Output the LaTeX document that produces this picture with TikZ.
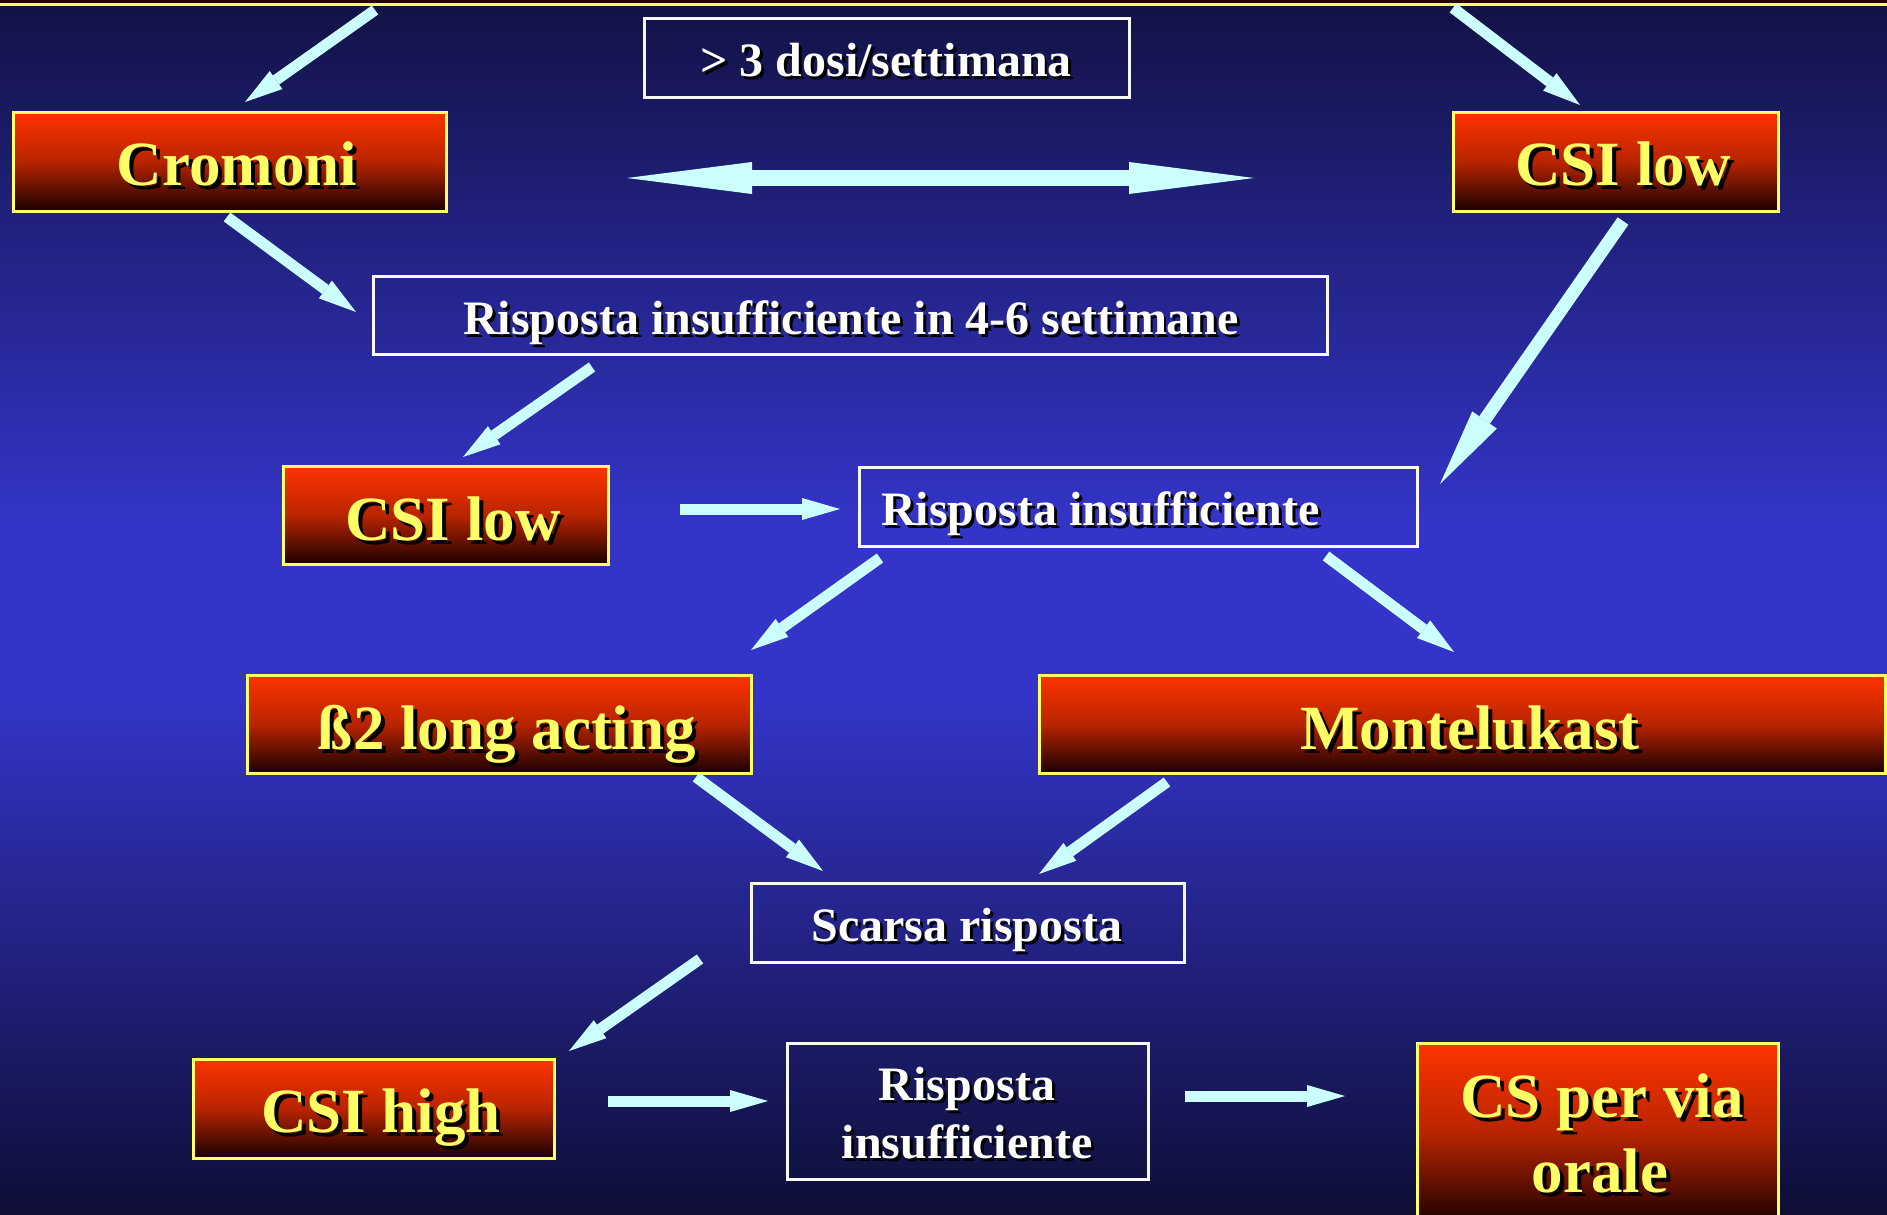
\documentclass[tikz,border=0pt]{standalone}
\usepackage{fontspec}
\setmainfont{Liberation Serif}
\usetikzlibrary{arrows.meta}
\definecolor{arrowc}{HTML}{CCFFFF}
\definecolor{ylw}{HTML}{FFFF66}
\definecolor{bgtop}{HTML}{121245}
\definecolor{bgmid}{HTML}{3434C8}
\definecolor{bgbot}{HTML}{0E0E36}
\definecolor{redtop}{HTML}{FF3300}
\definecolor{redmid}{HTML}{B82400}
\definecolor{redbot}{HTML}{1A0000}
\definecolor{topstrip}{HTML}{2A0400}
\newcommand{\shtext}[3]{\rlap{\hspace{#1}\raisebox{-#1}{\color{black}#3}}{\color{#2}#3}}
\begin{document}
\begin{tikzpicture}[x=1pt,y=-1pt,
  redbox/.style={draw=ylw, line width=3pt, top color=redtop, bottom color=redbot, middle color=redmid, inner sep=0pt},
  whitebox/.style={draw=white!94!gray, line width=3pt, inner sep=0pt},
  ytext/.style={anchor=base, inner sep=0pt, font=\fontsize{63}{75}\selectfont\bfseries},
  wtext/.style={anchor=base, inner sep=0pt, font=\fontsize{48}{58}\selectfont\bfseries},
  wtextw/.style={anchor=base west, inner sep=0pt, font=\fontsize{48}{58}\selectfont\bfseries},
  arr/.style={draw=arrowc, line width=11pt, -{Triangle[length=38pt,width=22pt,line width=0pt]}},
  bigarr/.style={draw=arrowc, line width=13pt, -{Triangle[length=78pt,width=30pt,line width=0pt]}},
  dblarr/.style={draw=arrowc, line width=16pt, {Triangle[length=125pt,width=32pt,line width=0pt]}-{Triangle[length=125pt,width=32pt,line width=0pt]}}
]
\useasboundingbox (0,0) rectangle (1887,1215);
\clip (0,0) rectangle (1887,1215);
% background
\shade[top color=bgtop, bottom color=bgmid] (-2,-2) rectangle (1889,521);
\fill[bgmid] (-2,520) rectangle (1889,701);
\shade[top color=bgmid, bottom color=bgbot] (-2,700) rectangle (1889,1217);
% top strip (edge of a box above)
\fill[topstrip] (-10,-40) rectangle (1897,4);
\draw[ylw, line width=3pt] (-10,4.5) -- (1897,4.5);

% boxes
\node[whitebox, minimum width=485, minimum height=78] (dosi) at (886.5,58) {};
\node[redbox, minimum width=433, minimum height=99] (cromoni) at (229.5,161.5) {};
\node[redbox, minimum width=325, minimum height=99] (csilowA) at (1615.5,161.5) {};
\node[whitebox, minimum width=954, minimum height=78] (rsei) at (850,315) {};
\node[redbox, minimum width=325, minimum height=98] (csilowB) at (445.5,515.5) {};
\node[whitebox, minimum width=558, minimum height=79] (rinsuf) at (1138,506.5) {};
\node[redbox, minimum width=504, minimum height=98] (beta) at (499,724) {};
\node[redbox, minimum width=846, minimum height=98] (monte) at (1462,724) {};
\node[whitebox, minimum width=433, minimum height=79] (scarsa) at (967.5,922.5) {};
\node[redbox, minimum width=361, minimum height=99] (csihigh) at (373.5,1108.5) {};
\node[whitebox, minimum width=361, minimum height=136] (rinsufB) at (967.5,1111) {};
\node[redbox, minimum width=361, minimum height=181] (csoral) at (1597.5,1133.5) {};

% texts
\node[wtext] (tdosi) at (886,77) {\shtext{3pt}{white}{> 3 dosi/settimana}};
\node[ytext] (tcromoni) at (237,185) {\shtext{4pt}{ylw}{Cromoni}};
\node[ytext] (tcsilowA) at (1623,185) {\shtext{4pt}{ylw}{CSI low}};
\node[wtext] (trsei) at (851,334) {\shtext{3pt}{white}{Risposta insufficiente in 4-6 settimane}};
\node[ytext] (tcsilowB) at (453,540) {\shtext{4pt}{ylw}{CSI low}};
\node[wtextw] (trinsuf) at (881,525) {\shtext{3pt}{white}{Risposta insufficiente}};
\node[ytext] (tbeta) at (507,749) {\shtext{4pt}{ylw}{ß2 long acting}};
\node[ytext] (tmonte) at (1470,749) {\shtext{4pt}{ylw}{Montelukast}};
\node[wtext] (tscarsa) at (967,941) {\shtext{3pt}{white}{Scarsa risposta}};
\node[ytext] (tcsihigh) at (381,1132) {\shtext{4pt}{ylw}{CSI high}};
\node[wtext] (trinsufB1) at (967,1100) {\shtext{3pt}{white}{Risposta}};
\node[wtext] (trinsufB2) at (967,1158) {\shtext{3pt}{white}{insufficiente}};
\node[ytext] (tcsoral1) at (1602,1117) {\shtext{4pt}{ylw}{CS per via}};
\node[ytext] (tcsoral2) at (1600,1192) {\shtext{4pt}{ylw}{orale}};

% arrow end points
\coordinate (a1) at (375,10);   \coordinate (a2) at (245,102);
\coordinate (b1) at (1453,8);   \coordinate (b2) at (1580,105);
\coordinate (c1) at (227,217);  \coordinate (c2) at (356,312);
\coordinate (d1) at (592,367);  \coordinate (d2) at (463,457);
\coordinate (e1) at (1623,221); \coordinate (e2) at (1440,484);
\coordinate (f1) at (680,509);  \coordinate (f2) at (840,509);
\coordinate (g1) at (880,558);  \coordinate (g2) at (751,650);
\coordinate (h1) at (1326,556); \coordinate (h2) at (1454,652);
\coordinate (i1) at (696,777);  \coordinate (i2) at (823,871);
\coordinate (j1) at (1167,782); \coordinate (j2) at (1039,874);
\coordinate (k1) at (700,959);  \coordinate (k2) at (569,1051);
\coordinate (l1) at (608,1101); \coordinate (l2) at (768,1101);
\coordinate (m1) at (1185,1096); \coordinate (m2) at (1345,1096);
\coordinate (dl) at (627,178);  \coordinate (dr) at (1254,178);

% arrows
\draw[arr] (a1) -- (a2);
\draw[arr] (b1) -- (b2);
\draw[arr] (c1) -- (c2);
\draw[arr] (d1) -- (d2);
\draw[bigarr] (e1) -- (e2);
\draw[arr] (f1) -- (f2);
\draw[arr] (g1) -- (g2);
\draw[arr] (h1) -- (h2);
\draw[arr] (i1) -- (i2);
\draw[arr] (j1) -- (j2);
\draw[arr] (k1) -- (k2);
\draw[arr] (l1) -- (l2);
\draw[arr] (m1) -- (m2);
\draw[dblarr] (dl) -- (dr);
\end{tikzpicture}
\end{document}
